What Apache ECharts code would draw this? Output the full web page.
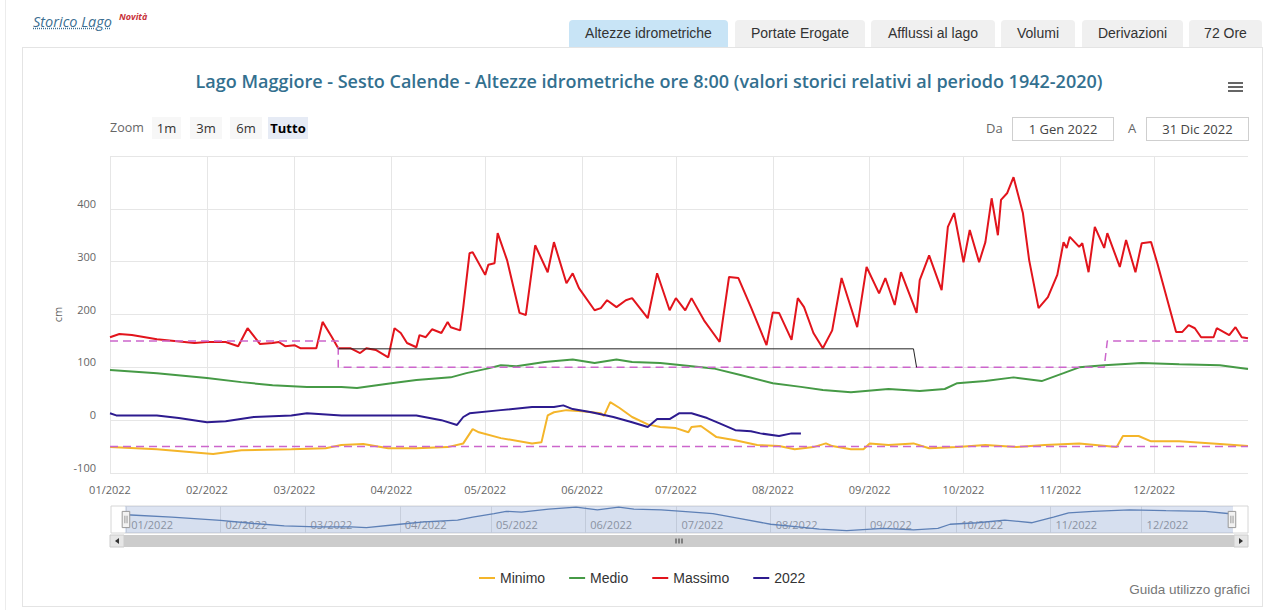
<!DOCTYPE html>
<html>
<head>
<meta charset="utf-8">
<script src="https://cdn.jsdelivr.net/npm/echarts@6/dist/echarts.min.js"></script>
<style>
html,body{margin:0;padding:0;width:1267px;height:610px;overflow:hidden;background:#fff;font-family:'Open Sans',Arial,sans-serif;}
#leftline{position:absolute;left:5px;top:0;width:1px;height:610px;background:#ececec;}
#box{position:absolute;left:22px;top:47px;width:1239px;height:558px;border:1px solid #e4e4e4;}
#hdr{position:absolute;left:33px;top:12px;font-style:italic;font-size:14.5px;color:#3c6f92;text-decoration:underline dotted #3c6f92;}
#nov{position:absolute;left:119px;top:10px;font-style:italic;font-weight:bold;font-size:9px;color:#c8323a;}
.tab{position:absolute;top:20px;height:27px;line-height:27px;background:#f0f0f0;border-radius:4px 4px 0 0;font-family:'Liberation Sans',Arial,sans-serif;font-size:14px;color:#333;text-align:center;}
.tab.sel{background:#c8e4f6;}
#chart{position:absolute;left:0;top:0;width:1267px;height:610px;}
.ov{position:absolute;z-index:5;}
.zl{font-size:12.5px;color:#666;top:119px;}
.zb{top:117px;height:22px;line-height:22px;font-size:13px;color:#333;text-align:center;background:#f7f7f7;}
.zb.sel{background:#e6ebf5;font-weight:bold;color:#000;}
.inp{top:117px;height:22px;line-height:22px;border:1px solid #cfcfcf;font-size:13px;color:#444;text-align:center;}
.hb{position:absolute;left:1228px;width:15px;height:2px;background:#666;z-index:5;}
#guida{position:absolute;right:17px;top:582px;font-family:'Liberation Sans',Arial,sans-serif;font-size:13.5px;color:#777;z-index:5;}
</style>
</head>
<body>
<div id="leftline"></div>
<div id="box"></div>
<div id="hdr">Storico Lago</div>
<div id="nov">Novità</div>
<div class="tab sel" style="left:569px;width:159px">Altezze idrometriche</div>
<div class="tab" style="left:735px;width:130px">Portate Erogate</div>
<div class="tab" style="left:871px;width:124px">Afflussi al lago</div>
<div class="tab" style="left:1001px;width:74px">Volumi</div>
<div class="tab" style="left:1082px;width:101px">Derivazioni</div>
<div class="tab" style="left:1189px;width:73px">72 Ore</div>
<div id="chart"></div>
<div class="ov zl" style="left:110px">Zoom</div>
<div class="ov zb" style="left:152px;width:29px">1m</div>
<div class="ov zb" style="left:190px;width:32px">3m</div>
<div class="ov zb" style="left:230px;width:32px">6m</div>
<div class="ov zb sel" style="left:268px;width:40px">Tutto</div>
<div class="ov zl" style="left:986px;font-size:13px">Da</div>
<div class="ov inp" style="left:1012px;width:100px">1 Gen 2022</div>
<div class="ov zl" style="left:1128px;font-size:13px">A</div>
<div class="ov inp" style="left:1146px;width:101px">31 Dic 2022</div>
<div class="hb" style="top:82px"></div>
<div class="hb" style="top:86px"></div>
<div class="hb" style="top:90px"></div>
<div id="guida">Guida utilizzo grafici</div>
<script>
// ---- data (x = day index from 1 Jan 2022, y = level in cm) ----
const monthLabels = ['01/2022','02/2022','03/2022','04/2022','05/2022','06/2022','07/2022','08/2022','09/2022','10/2022','11/2022','12/2022'];
const monthStartDays = [0,31,59,90,120,151,181,212,243,273,304,334];

const minimo = [[0,-51],[15,-55],[31,-63],[33,-64],[42,-57],[58,-55],[69,-53],[74,-47],[81,-45],[89,-53],[98,-53],[108,-51],[113,-44],[116,-17],[118,-23],[125,-34],[135,-44],[138,-42],[140,9],[142,15],[146,19],[151,17],[157,13],[158,8],[160,34],[163,23],[167,6],[172,-8],[176,-13],[181,-15],[185,-23],[186,-13],[189,-11],[194,-32],[200,-38],[207,-47],[214,-49],[219,-55],[225,-51],[229,-44],[231,-49],[237,-55],[241,-55],[243,-44],[249,-47],[257,-44],[262,-53],[271,-51],[280,-47],[290,-51],[299,-47],[310,-44],[322,-51],[324,-30],[329,-30],[333,-40],[342,-40],[355,-45],[364,-49]];

const medio = [[0,95],[15,89],[31,80],[42,72],[52,66],[63,63],[74,63],[79,61],[90,70],[98,76],[109,81],[114,89],[121,98],[125,104],[130,102],[139,110],[148,115],[155,108],[162,115],[167,110],[176,108],[183,104],[193,98],[202,85],[212,70],[221,63],[228,57],[237,53],[249,59],[259,55],[267,59],[271,70],[280,74],[289,81],[298,74],[305,89],[310,100],[318,104],[330,108],[342,106],[355,104],[364,97]];

const massimo = [[0,157],[3,163],[7,161],[15,153],[27,146],[31,148],[37,148],[41,140],[44,174],[48,144],[52,146],[54,148],[56,140],[59,142],[61,136],[66,136],[68,186],[71,157],[73,136],[77,136],[80,127],[82,136],[85,133],[89,119],[91,174],[93,165],[95,146],[98,138],[99,161],[101,157],[103,172],[106,165],[108,186],[109,176],[112,170],[113,214],[115,316],[116,318],[120,275],[121,294],[123,297],[124,354],[127,303],[131,203],[133,199],[136,331],[140,280],[142,337],[146,259],[148,278],[150,250],[155,208],[157,212],[159,227],[162,214],[165,227],[167,231],[172,193],[175,278],[179,208],[181,231],[184,208],[186,231],[190,189],[195,148],[198,271],[201,269],[205,214],[210,142],[212,204],[214,203],[218,152],[220,231],[222,214],[225,165],[228,136],[231,170],[234,269],[239,176],[242,290],[246,240],[248,269],[251,218],[253,280],[258,203],[259,265],[262,312],[266,246],[268,366],[270,392],[273,299],[275,360],[278,299],[280,337],[282,420],[284,350],[285,417],[287,430],[289,460],[292,392],[294,303],[297,212],[300,233],[303,275],[305,337],[306,326],[307,347],[310,328],[311,335],[313,280],[315,366],[318,326],[319,354],[323,290],[325,341],[328,280],[330,335],[333,337],[335,297],[341,167],[343,167],[345,180],[347,174],[349,157],[353,157],[354,174],[358,161],[360,176],[362,157],[364,155]];

const anno2022 = [[0,13],[2,9],[15,9],[22,4],[31,-4],[37,-2],[46,6],[58,9],[63,13],[74,9],[87,9],[98,9],[106,0],[111,-9],[113,6],[115,13],[125,19],[135,25],[142,25],[145,28],[148,21],[154,15],[161,6],[167,-4],[172,-13],[175,2],[179,2],[182,13],[186,13],[191,4],[195,-6],[200,-19],[205,-21],[208,-25],[214,-30],[218,-25],[221,-25]];

const limiteSuperiore = [[0,150],[73,150],[73,100],[318,100],[319,150],[364,150]];
const limiteInferiore = [[0,-50],[364,-50]];
const sogliaEstiva = [[73,135],[257,135],[258,100]];

const yTicks = {min:-100, max:500, step:100};

// ---- helpers ----
const monthFmt = v => { const i = monthStartDays.indexOf(Math.round(v)); return i >= 0 ? monthLabels[i] : ''; };

const chart = echarts.init(document.getElementById('chart'), null, {renderer:'svg'});
const FONT = "'Open Sans', Arial, sans-serif";
const SANS = "'Liberation Sans',Arial,sans-serif";

const lineSeries = (name, data, color, extra) => Object.assign({
  name, type:'line', data, xAxisIndex:0, yAxisIndex:0,
  showSymbol:false, symbol:'none', smooth:false,
  lineStyle:{color, width:2}, itemStyle:{color}, emphasis:{disabled:true}
}, extra || {});

const option = {
  animation:false,
  textStyle:{fontFamily:FONT},
  title:{
    text:'Lago Maggiore - Sesto Calende - Altezze idrometriche ore 8:00 (valori storici relativi al periodo 1942-2020)',
    left:644, top:67, textAlign:'center',
    textStyle:{color:'#33708f', fontSize:18, fontWeight:600, fontFamily:FONT}
  },
  legend:{
    data:['Minimo','Medio','Massimo','2022'],
    left:474, top:566, itemGap:24, itemWidth:16, itemHeight:2, icon:'rect',
    textStyle:{color:'#333', fontSize:14, fontFamily:SANS}
  },
  grid:[
    {left:110, right:19, top:156, bottom:137},
    {left:111, right:19, top:506, height:27, show:true, borderColor:'#d6d6d6', borderWidth:1, backgroundColor:'rgba(0,0,0,0)'}
  ],
  xAxis:[
    {type:'value', gridIndex:0, min:0, max:364,
     axisLine:{show:false},
     axisTick:{show:true, length:7, lineStyle:{color:'#e6e6e6'}, customValues:monthStartDays},
     axisLabel:{customValues:monthStartDays, formatter:monthFmt, color:'#666', fontSize:11, margin:11},
     splitLine:{show:true, lineStyle:{color:'#e6e6e6'}}},
    {type:'value', gridIndex:1, min:-5, max:369,
     axisLine:{show:false}, axisTick:{show:false, customValues:monthStartDays},
     axisLabel:{customValues:monthStartDays, formatter:monthFmt, inside:true, color:'#999', fontSize:11, margin:3, verticalAlign:'bottom', align:'left', padding:[0,0,0,5]},
     splitLine:{show:true, lineStyle:{color:'#e3e3e3'}}}
  ],
  yAxis:[
    {type:'value', gridIndex:0, min:yTicks.min, max:yTicks.max, interval:yTicks.step,
     name:'cm', nameLocation:'middle', nameGap:44, nameRotate:90,
     nameTextStyle:{color:'#666', fontSize:11},
     axisLine:{show:false}, axisTick:{show:false},
     axisLabel:{color:'#666', fontSize:11, margin:14, showMaxLabel:false, verticalAlign:'bottom'},
     splitLine:{lineStyle:{color:'#e6e6e6'}}},
    {type:'value', gridIndex:1, min:47, max:118, show:false, splitLine:{show:false}}
  ],
  dataZoom:[{
    type:'slider', xAxisIndex:0, filterMode:'none', start:0, end:100,
    left:124, right:35, top:506, height:27,
    showDataShadow:false, showDetail:false, brushSelect:false, moveHandleSize:0,
    backgroundColor:'rgba(0,0,0,0)', borderColor:'rgba(0,0,0,0)',
    fillerColor:'rgba(102,133,194,0.22)',
    handleIcon:'path://M0,0 L7,0 L7,15 L0,15 Z M2.5,4 L2.5,11 M4.5,4 L4.5,11',
    handleSize:'60%',
    handleStyle:{color:'#f2f2f2', borderColor:'#999', borderWidth:1},
    emphasis:{handleStyle:{color:'#f2f2f2', borderColor:'#999'}}
  }],
  series:[
    lineSeries('Medio', medio, '#469a46'),
    lineSeries('Minimo', minimo, '#f4b52a'),
    lineSeries('Massimo', massimo, '#e2141c'),
    lineSeries('2022', anno2022, '#2d1b8f'),
    lineSeries('Limite regolazione', limiteSuperiore, '#cc66cc', {lineStyle:{color:'#cc66cc', width:1.5, type:[8,5]}}),
    lineSeries('Limite inferiore', limiteInferiore, '#cc66cc', {lineStyle:{color:'#cc66cc', width:1.5, type:[8,5]}}),
    lineSeries('Soglia', sogliaEstiva, '#222', {lineStyle:{color:'#222', width:1}}),
    {name:'navigatore', type:'line', data:medio, xAxisIndex:1, yAxisIndex:1,
     showSymbol:false, symbol:'none', lineStyle:{color:'#5b7fb3', width:1.3},
     areaStyle:{color:'rgba(69,114,167,0.06)'}, emphasis:{disabled:true}, silent:true}
  ],
  graphic:[
    {type:'rect', shape:{x:110, y:535, width:1138, height:12}, style:{fill:'#f2f2f2'}, silent:true},
    {type:'rect', shape:{x:124, y:535, width:1110, height:12}, style:{fill:'#cccccc'}, silent:true},
    {type:'rect', shape:{x:110, y:535, width:14, height:12}, style:{fill:'#e6e6e6', stroke:'#cccccc', lineWidth:1}, silent:true},
    {type:'rect', shape:{x:1234, y:535, width:14, height:12}, style:{fill:'#e6e6e6', stroke:'#cccccc', lineWidth:1}, silent:true},
    {type:'polygon', shape:{points:[[119,538],[119,544],[115,541]]}, style:{fill:'#333'}, silent:true},
    {type:'polygon', shape:{points:[[1239,538],[1239,544],[1243,541]]}, style:{fill:'#333'}, silent:true},
    {type:'line', shape:{x1:676, y1:538.5, x2:676, y2:543.5}, style:{stroke:'#333', lineWidth:1}, silent:true},
    {type:'line', shape:{x1:679, y1:538.5, x2:679, y2:543.5}, style:{stroke:'#333', lineWidth:1}, silent:true},
    {type:'line', shape:{x1:682, y1:538.5, x2:682, y2:543.5}, style:{stroke:'#333', lineWidth:1}, silent:true}
  ]
};
chart.setOption(option);
</script>
</body>
</html>
